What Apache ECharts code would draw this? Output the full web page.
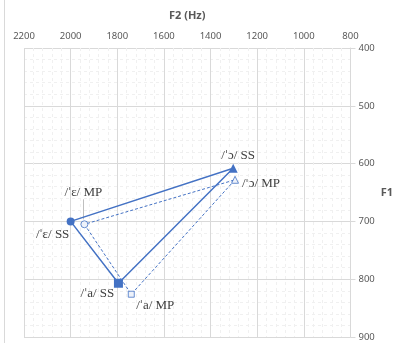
<!DOCTYPE html>
<html><head><meta charset="utf-8">
<script src="https://cdn.jsdelivr.net/npm/echarts@6/dist/echarts.min.js"></script>
<style>html,body{margin:0;padding:0;background:#fff}#c{width:396px;height:345px}</style>
</head><body><div id="c"></div>
<script>
var vowels = ['ɛ', 'a', 'ɔ'];
var ssF2 = [2000, 1795, 1303];
var ssF1 = [700, 807, 608];
var mpF2 = [1941, 1740, 1295];
var mpF1 = [705, 826, 628];
var xTicks = [800, 2200, 200];
var yTicks = [400, 900, 100];

var blue = '#4472C4';
var ssSymbols = ['circle', 'rect', 'triangle'];
var ssSizes = [8, 9, 9];
var mpSymbols = ['circle', 'rect', 'triangle'];
var ssOffsets = [[-18, 13], [-21, 10], [5, -13]];
var mpOffsets = [[-1, -32], [24, 11], [26, 4]];
var serif = 'Liberation Serif, DejaVu Serif, serif';
var labelFont = {fontFamily: serif, fontSize: 13, color: '#404040',
  rich: {s: {fontFamily: 'DejaVu Sans', fontSize: 11, color: '#404040'}}};

function build(F2, F1, tag, syms, sizes, offs) {
  var d = [];
  var order = [0, 1, 2, 0];
  order.forEach(function (i, k) {
    var item = {
      value: [F2[i], F1[i]],
      symbol: syms[i],
      symbolSize: sizes[i]
    };
    if (k < 3) {
      item.label = Object.assign({
        show: true, position: 'inside',
        offset: offs[i],
        formatter: '/{s|\u02C8}' + vowels[i] + '/ ' + tag
      }, labelFont);
    } else {
      item.symbolSize = 0;
      item.label = {show: false};
    }
    d.push(item);
  });
  return d;
}

var chart = echarts.init(document.getElementById('c'));
chart.setOption({
  animation: false,
  grid: {left: 24, right: 38, top: 48, bottom: 8},
  xAxis: {
    type: 'value', position: 'top', inverse: true,
    min: xTicks[0], max: xTicks[1], interval: xTicks[2],
    name: 'F2 (Hz)', nameLocation: 'middle', nameGap: 27,
    nameTextStyle: {fontSize: 11, fontWeight: 'bold', color: '#595959', fontFamily: 'Noto Sans'},
    axisLine: {show: false}, axisTick: {show: false},
    axisLabel: {fontSize: 9.5, color: '#595959', margin: 7, fontFamily: 'Noto Sans',
      formatter: function (v) { return String(v); }},
    splitLine: {show: true, lineStyle: {color: '#d9d9d9', width: 1}},
    minorTick: {show: false, splitNumber: 5},
    minorSplitLine: {show: true, lineStyle: {color: '#f0f0f0', type: [3, 3]}}
  },
  yAxis: {
    type: 'value', position: 'right', inverse: true,
    min: yTicks[0], max: yTicks[1], interval: yTicks[2],
    name: 'F1', nameLocation: 'middle', nameGap: 24, nameRotate: 0,
    nameTextStyle: {fontSize: 11, fontWeight: 'bold', color: '#595959', fontFamily: 'Noto Sans'},
    axisLine: {show: true, lineStyle: {color: '#d9d9d9'}},
    axisTick: {show: true, length: 5, lineStyle: {color: '#d9d9d9'}},
    axisLabel: {fontSize: 9.5, color: '#595959', margin: 8, fontFamily: 'Noto Sans',
      formatter: function (v) { return String(v); }},
    splitLine: {show: true, lineStyle: {color: '#d9d9d9', width: 1}},
    minorTick: {show: false, splitNumber: 5},
    minorSplitLine: {show: true, lineStyle: {color: '#f0f0f0', type: [3, 3]}}
  },
  series: [
    {
      name: 'SS', type: 'line',
      data: build(ssF2, ssF1, 'SS', ssSymbols, ssSizes, ssOffsets),
      lineStyle: {color: blue, width: 1.5},
      itemStyle: {color: blue},
      z: 3
    },
    {
      name: 'MP', type: 'line',
      data: build(mpF2, mpF1, 'MP', mpSymbols, [7, 6, 7], mpOffsets),
      lineStyle: {color: blue, width: 1, type: [3, 2]},
      itemStyle: {color: '#eef2fa', borderColor: blue, borderWidth: 0.8},
      showAllSymbol: true,
      z: 2
    }
  ]
});
var p = chart.convertToPixel({gridIndex: 0}, [mpF2[0], mpF1[0]]);
chart.setOption({
  graphic: [
    {type: 'line', shape: {x1: 4.5, y1: 0, x2: 4.5, y2: 343}, style: {stroke: '#d9d9d9', lineWidth: 1}},
    {type: 'line', shape: {x1: Math.round(p[0]) - 0.5, y1: p[1] - 25, x2: Math.round(p[0]) - 0.5, y2: p[1] - 5}, style: {stroke: '#bfbfbf', lineWidth: 1}}
  ]
});
</script></body></html>
